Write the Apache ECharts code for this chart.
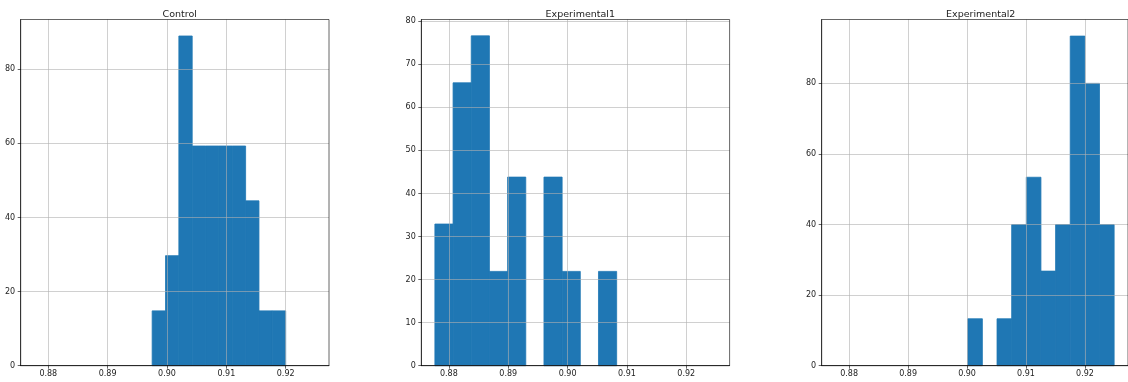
<!DOCTYPE html>
<html>
<head>
<meta charset="utf-8">
<script src="https://cdn.jsdelivr.net/npm/echarts@6/dist/echarts.min.js"></script>
<style>
  html, body { margin: 0; padding: 0; background: #fff; }
  #chart { width: 1128px; height: 382px; }
</style>
</head>
<body>
<div id="chart"></div>
<script>
  // panel titles
  const titles = ['Control', 'Experimental1', 'Experimental2']

  // histogram range [first edge, last edge] and bar heights (density), 10 bins each
  const controlRange = [0.8975, 0.92]
  const controlDensity = [14.8, 29.7, 89.0, 59.3, 59.3, 59.3, 59.3, 44.5, 14.8, 14.8]

  const exp1Range = [0.87764, 0.90827]
  const exp1Density = [32.9, 65.7, 76.6, 21.9, 43.8, 0, 43.8, 21.9, 0, 21.9]

  const exp2Range = [0.90012, 0.92495]
  const exp2Density = [13.3, 0, 13.3, 40.0, 53.4, 26.8, 40.0, 93.4, 80.0, 40.0]

  // shared x axis
  const xExtent = [0.87535, 0.9273]
  const xTicks = [0.88, 0.89, 0.9, 0.91, 0.92]

  // y axes
  const yMax = [93.45, 80.4, 98.1]
  const yStep = [20, 10, 20]
  const yTicks = [
    [0, 20, 40, 60, 80],
    [0, 10, 20, 30, 40, 50, 60, 70, 80],
    [0, 20, 40, 60, 80],
  ]

  const panels = [
    { range: controlRange, density: controlDensity },
    { range: exp1Range, density: exp1Density },
    { range: exp2Range, density: exp2Density },
  ]

  const gridLeft = [20.7, 421.3, 821.7]
  const font = 'DejaVu Sans'
  const spine = 'rgba(0,0,0,0.6)'
  const gridLine = 'rgba(176,176,176,0.6)'
  const barColor = '#1f77b4'

  function bins(p) {
    const w = (p.range[1] - p.range[0]) / p.density.length
    return p.density.map((h, i) => [p.range[0] + i * w, p.range[0] + (i + 1) * w, h])
  }

  const chart = echarts.init(document.getElementById('chart'))

  chart.setOption({
    animation: false,
    title: titles.map((t, i) => ({
      text: t,
      left: gridLeft[i] + 154,
      textAlign: 'center',
      top: 5,
      textStyle: { fontFamily: font, fontSize: 9.5, fontWeight: 'normal', color: '#222' },
    })),
    grid: gridLeft.map((l) => ({
      left: l,
      top: 19.5,
      width: 308.3,
      height: 346.2,
      show: true,
      borderColor: spine,
      borderWidth: 1,
      z: 4,
    })),
    xAxis: gridLeft.map((_, i) => ({
      type: 'value',
      gridIndex: i,
      min: xExtent[0],
      max: xExtent[1],
      minInterval: 0.01,
      maxInterval: 0.01,
      z: 3,
      axisLine: { show: true, lineStyle: { color: spine, width: 1 } },
      axisTick: { show: true, length: 3, lineStyle: { color: spine }, customValues: xTicks },
      axisLabel: {
        customValues: xTicks,
        margin: 4,
        fontFamily: font,
        fontSize: 8,
        color: '#222',
        formatter: (v) => v.toFixed(2),
      },
      splitLine: { show: true, lineStyle: { color: gridLine, width: 1 } },
    })),
    yAxis: gridLeft.map((_, i) => ({
      type: 'value',
      gridIndex: i,
      min: 0,
      max: yMax[i],
      interval: yStep[i],
      z: 3,
      axisLine: { show: true, lineStyle: { color: spine, width: 1 } },
      axisTick: { show: true, length: 3, lineStyle: { color: spine }, customValues: yTicks[i] },
      axisLabel: {
        customValues: yTicks[i],
        margin: 5.5,
        fontFamily: font,
        fontSize: 8,
        color: '#222',
      },
      splitLine: { show: true, lineStyle: { color: gridLine, width: 1 } },
    })),
    series: panels.map((p, i) => ({
      type: 'custom',
      xAxisIndex: i,
      yAxisIndex: i,
      z: 2,
      encode: { x: [0, 1], y: 2 },
      data: bins(p),
      renderItem: (params, api) => {
        const top = api.coord([api.value(0), api.value(2)])
        const base = api.coord([api.value(1), 0])
        if (api.value(2) <= 0) return null
        return {
          type: 'rect',
          shape: { x: top[0], y: top[1], width: base[0] - top[0], height: base[1] - top[1] },
          style: { fill: barColor, stroke: barColor, lineWidth: 0.8 },
        }
      },
    })),
  })
</script>
</body>
</html>
